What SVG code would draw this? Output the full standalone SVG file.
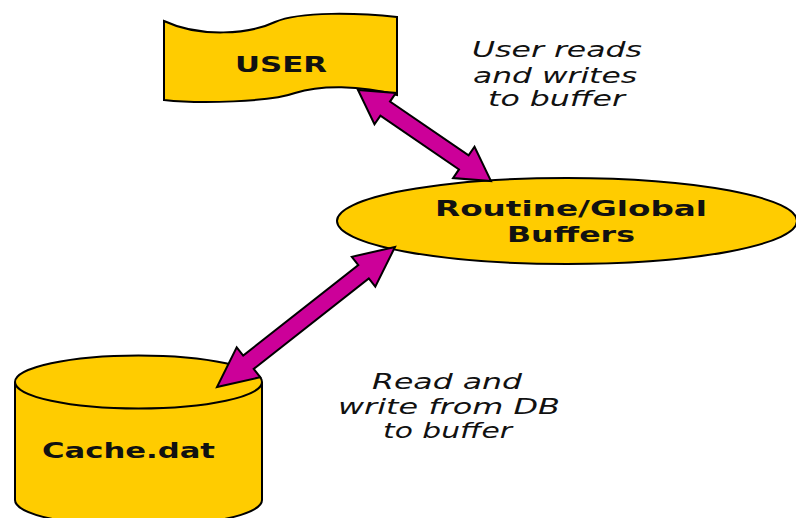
<svg xmlns="http://www.w3.org/2000/svg" width="796" height="518" viewBox="0 0 796 518">
<style>
.shape{fill:#FFCC00;stroke:#000;stroke-width:2}
.lbl{font-family:"DejaVu Sans","Liberation Sans",sans-serif;font-weight:bold;font-size:22px;fill:#111}
.note{font-family:"DejaVu Sans","Liberation Sans",sans-serif;font-style:italic;font-size:21px;fill:#111}
.arrow{fill:#CC0099;stroke:#000;stroke-width:2;stroke-linejoin:miter}
</style>
<rect width="796" height="518" fill="#fff"/>
<g id="user">
<path class="shape" d="M164,21 C200,38 250,34 275,22 C300,11 360,13 397,17 L397,95 C360,85 320,85 295,93 C270,102 200,104 164,100 Z"/>
<text class="lbl" x="235" y="72" textLength="92" lengthAdjust="spacingAndGlyphs">USER</text>
</g>
<g id="buffers">
<ellipse class="shape" cx="567" cy="221" rx="230" ry="43"/>
<text class="lbl" x="435" y="216" textLength="272" lengthAdjust="spacingAndGlyphs">Routine/Global</text>
<text class="lbl" x="507" y="242" textLength="128" lengthAdjust="spacingAndGlyphs">Buffers</text>
</g>
<g id="cache">
<path class="shape" d="M15,382 L15,500 A123.5,26.5 0 0 0 262,500 L262,382"/>
<ellipse class="shape" cx="138.5" cy="382" rx="123.5" ry="26.5"/>
<text class="lbl" x="42" y="458" textLength="173" lengthAdjust="spacingAndGlyphs">Cache.dat</text>
</g>
<g id="notes">
<text class="note" x="472" y="57" textLength="170" lengthAdjust="spacingAndGlyphs">User reads</text>
<text class="note" x="473" y="83" textLength="164" lengthAdjust="spacingAndGlyphs">and writes</text>
<text class="note" x="488" y="106" textLength="137" lengthAdjust="spacingAndGlyphs">to buffer</text>
<text class="note" x="372" y="389" textLength="150" lengthAdjust="spacingAndGlyphs">Read and</text>
<text class="note" x="338" y="414" textLength="222" lengthAdjust="spacingAndGlyphs">write from DB</text>
<text class="note" x="383" y="438" textLength="129" lengthAdjust="spacingAndGlyphs">to buffer</text>
</g>
<g id="connectors">
<polygon class="arrow" points="358,90 374.47,124.28 380.4,115.61 459,169.41 453.07,178.08 491,181 474.53,146.72 468.6,155.39 390,101.59 395.93,92.92"/>
<polygon class="arrow" points="395,247 351.82,256.79 358.31,265.04 243.19,355.6 236.7,347.35 217,387 260.18,377.21 253.69,368.96 368.81,278.4 375.3,286.65"/>
</g>
</svg>
